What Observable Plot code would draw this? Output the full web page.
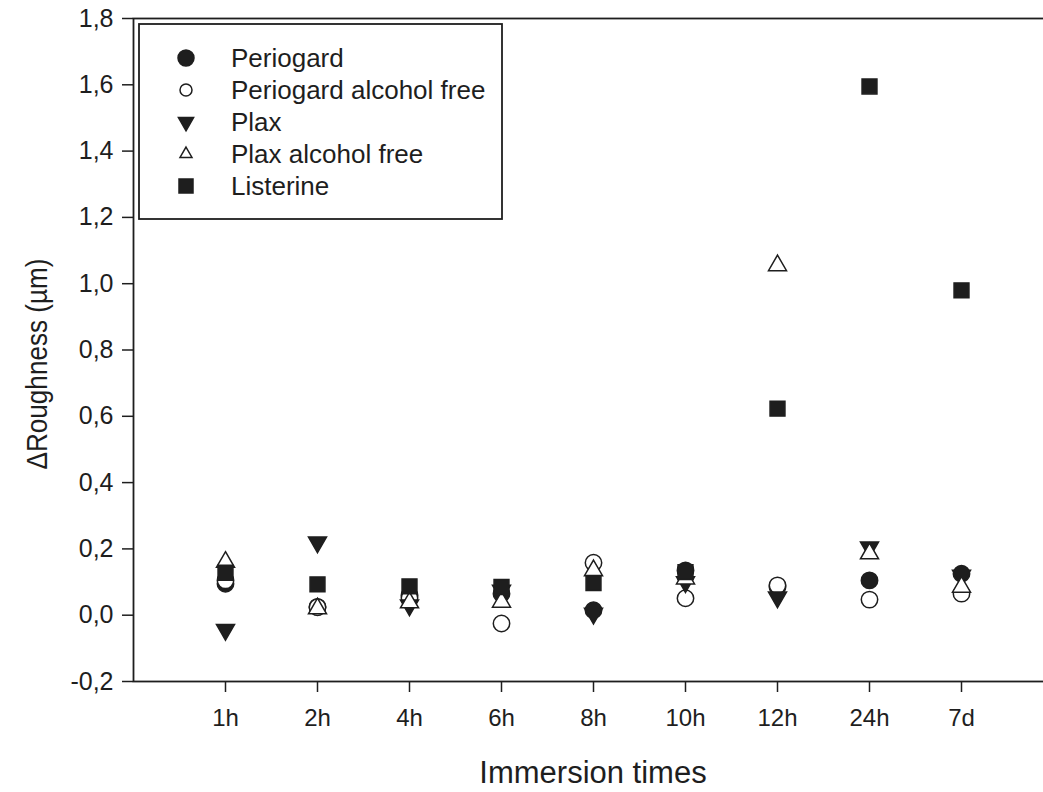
<!DOCTYPE html>
<html>
<head>
<meta charset="utf-8">
<script src="https://cdn.jsdelivr.net/npm/d3@7"></script>
<script src="https://cdn.jsdelivr.net/npm/@observablehq/plot@0.6"></script>
<style>
  html, body { margin: 0; padding: 0; background: #fff; overflow: hidden; }
  #wrap { position: relative; width: 1043px; height: 792px; overflow: hidden; font-family: "Liberation Sans", Arial, sans-serif; }
  #wrap svg { max-width: none !important; }
</style>
</head>
<body>
<div id="wrap"></div>
<script>
const categories = ["1h","2h","4h","6h","8h","10h","12h","24h","7d"];
const seriesNames = ["Periogard","Periogard alcohol free","Plax","Plax alcohol free","Listerine"];
const periogard   = [0.095, 0.025, 0.060, 0.065, 0.015, 0.135, 0.085, 0.105, 0.125];
const periogardAF = [0.105, 0.024, 0.052, -0.025, 0.158, 0.051, 0.090, 0.047, 0.065];
const plax        = [-0.044, 0.220, 0.030, 0.075, 0.005, 0.100, 0.054, 0.205, 0.120];
const plaxAF      = [0.160, 0.020, 0.038, 0.040, 0.135, 0.110, 1.055, 0.186, 0.085];
const listerine   = [0.128, 0.093, 0.087, 0.085, 0.097, 0.130, 0.623, 1.595, 0.980];
const yTicks = [-0.2, 0, 0.2, 0.4, 0.6, 0.8, 1.0, 1.2, 1.4, 1.6, 1.8];

const ink = "#1e1e1e";
const FONT = "Liberation Sans, Arial, sans-serif";
const sqrt3 = Math.sqrt(3);
const triangleDown = {
  draw(context, size) {
    const y = -Math.sqrt(size / (sqrt3 * 3));
    context.moveTo(0, -y * 2);
    context.lineTo(-sqrt3 * y, y);
    context.lineTo(sqrt3 * y, y);
    context.closePath();
  }
};

const toRows = (vals) => categories.map((c, i) => ({cat: c, v: vals[i]}));
const styles = [
  {vals: periogard,   symbol: "circle",   r: 8.2, fill: ink},
  {vals: periogardAF, symbol: "circle",   r: 8.2, fill: "white"},
  {vals: plax,        symbol: triangleDown, r: 6.7, fill: ink},
  {vals: plaxAF,      symbol: "triangle", r: 6.7, fill: "white"},
  {vals: listerine,   symbol: "square",   r: 8.4, fill: ink}
];

const fmt = d => (d < 0 ? "-" : "") + Math.abs(d).toFixed(1).replace(".", ",");

const chart = Plot.plot({
  width: 1060,
  height: 792,
  marginLeft: 133,
  marginRight: 7,
  marginTop: 18,
  marginBottom: 111,
  style: {fontFamily: FONT, color: ink, background: "white", maxWidth: "none"},
  x: {type: "point", domain: categories, padding: 1},
  y: {domain: [-0.2, 1.8]},
  marks: [
    Plot.axisY({ticks: yTicks, tickFormat: fmt, tickSize: 11, tickPadding: 9, fontSize: 25, stroke: ink, strokeWidth: 1.5, label: null}),
    Plot.axisX({tickSize: 11, tickPadding: 16, fontSize: 24, stroke: ink, strokeWidth: 1.5, label: null}),
    Plot.frame({stroke: ink, strokeWidth: 1.8}),
    ...styles.map(s => Plot.dot(toRows(s.vals), {
      x: "cat", y: "v", symbol: s.symbol, r: s.r,
      fill: s.fill, stroke: ink, strokeWidth: 1.5
    }))
  ]
});
document.getElementById("wrap").appendChild(chart);

// Axis titles
const svg = d3.select(chart);
svg.append("text")
  .attr("x", 593).attr("y", 783)
  .attr("text-anchor", "middle")
  .attr("font-size", 31).attr("fill", ink)
  .attr("font-family", FONT)
  .text("Immersion times");
svg.append("text")
  .attr("transform", "translate(47,364) rotate(-90)")
  .attr("text-anchor", "middle")
  .attr("font-size", 30).attr("fill", ink)
  .attr("font-family", FONT)
  .attr("textLength", 211).attr("lengthAdjust", "spacingAndGlyphs")
  .text("ΔRoughness (µm)");

// Legend
const lg = svg.append("g").attr("transform", "translate(139,24)");
lg.append("rect").attr("width", 363).attr("height", 195)
  .attr("fill", "white").attr("stroke", ink).attr("stroke-width", 1.8);
const legSyms = [
  {sym: d3.symbolCircle, size: Math.PI * 8 * 8, fill: ink},
  {sym: d3.symbolCircle, size: Math.PI * 6 * 6, fill: "white"},
  {sym: triangleDown, size: 100, fill: ink},
  {sym: d3.symbolTriangle, size: 62, fill: "white"},
  {sym: d3.symbolSquare, size: 14 * 14, fill: ink}
];
seriesNames.forEach((name, i) => {
  const y = 34 + i * 32;
  lg.append("path")
    .attr("transform", `translate(47,${y})`)
    .attr("d", d3.symbol(legSyms[i].sym, legSyms[i].size)())
    .attr("fill", legSyms[i].fill).attr("stroke", ink).attr("stroke-width", 1.5);
  lg.append("text")
    .attr("x", 92).attr("y", y).attr("dy", "0.36em")
    .attr("text-anchor", "start")
    .attr("font-size", 26).attr("fill", ink)
    .attr("font-family", FONT)
    .text(name);
});
</script>
</body>
</html>
